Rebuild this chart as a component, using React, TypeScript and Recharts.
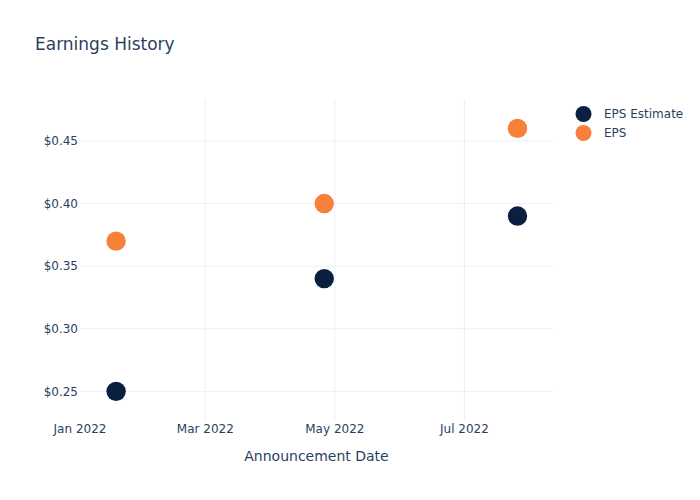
import React from 'react';
import { ScatterChart, Scatter, XAxis, YAxis, CartesianGrid } from 'recharts';

const announcementDates = ['2022-01-18', '2022-04-26', '2022-07-26'];
const epsEstimate = [0.25, 0.34, 0.39];
const epsActual = [0.37, 0.4, 0.46];
const xTickDates = ['2022-01-01', '2022-03-01', '2022-05-01', '2022-07-01'];
const yTicks = [0.25, 0.3, 0.35, 0.4, 0.45];
const seriesNames = ['EPS Estimate', 'EPS'];
const seriesColors = ['#0b1f41', '#f7813a'];

const MONTHS = ['Jan', 'Feb', 'Mar', 'Apr', 'May', 'Jun', 'Jul', 'Aug', 'Sep', 'Oct', 'Nov', 'Dec'];
const toTs = (s: string) => {
  const [y, m, d] = s.split('-').map(Number);
  return Date.UTC(y, m - 1, d);
};

const estimateData = announcementDates.map((d, i) => ({ x: toTs(d), y: epsEstimate[i] }));
const actualData = announcementDates.map((d, i) => ({ x: toTs(d), y: epsActual[i] }));
const xTicks = xTickDates.map(toTs);

const xDomain = [Date.UTC(2022, 0, 1), Date.UTC(2022, 7, 11, 17)];
const yDomain = [0.2271, 0.4827];

const FONT = '"DejaVu Sans", Verdana, sans-serif';
const TEXT = '#2a3f5f';

const dot = (color: string) => (props: any) => (
  <circle cx={props.cx} cy={props.cy} r={9.7} fill={color} />
);

export default function App() {
  return (
    <div style={{ position: 'absolute', left: 0, top: 0, width: 700, height: 500, background: '#fff', fontFamily: FONT }}>
      <div style={{ position: 'absolute', left: 35, top: 34, fontSize: 17, color: TEXT, fontFamily: FONT, lineHeight: '20px' }}>
        Earnings History
      </div>
      <ScatterChart width={700} height={500} margin={{ top: 100, right: 147, bottom: 50, left: 0 }}>
        <CartesianGrid
          stroke="#ebf0f8"
          strokeWidth={1}
          verticalCoordinatesGenerator={(args: any) => {
            const off = args.offset;
            return xTicks
              .slice(1)
              .map((t) => off.left + ((t - xDomain[0]) / (xDomain[1] - xDomain[0])) * off.width);
          }}
          horizontalCoordinatesGenerator={(args: any) => {
            const off = args.offset;
            return yTicks.map(
              (t) => off.top + off.height - ((t - yDomain[0]) / (yDomain[1] - yDomain[0])) * off.height
            );
          }}
        />
        <XAxis
          type="number"
          dataKey="x"
          domain={xDomain}
          ticks={xTicks}
          allowDataOverflow
          axisLine={false}
          tickLine={false}
          tickSize={0}
          tickMargin={4}
          height={30}
          tick={{ fill: TEXT, fontSize: 12, fontFamily: FONT }}
          tickFormatter={(v: number) => {
            const d = new Date(v);
            return `${MONTHS[d.getUTCMonth()]} ${d.getUTCFullYear()}`;
          }}
          label={{ value: 'Announcement Date', position: 'bottom', offset: 1, fill: TEXT, fontSize: 14, fontFamily: FONT }}
        />
        <YAxis
          type="number"
          dataKey="y"
          domain={yDomain}
          ticks={yTicks}
          allowDataOverflow
          axisLine={false}
          tickLine={false}
          tickSize={0}
          tickMargin={2}
          width={80}
          tick={{ fill: TEXT, fontSize: 12, fontFamily: FONT }}
          tickFormatter={(v: number) => `$${v.toFixed(2)}`}
        />
        <Scatter name={seriesNames[0]} data={estimateData} fill={seriesColors[0]} shape={dot(seriesColors[0])} isAnimationActive={false} />
        <Scatter name={seriesNames[1]} data={actualData} fill={seriesColors[1]} shape={dot(seriesColors[1])} isAnimationActive={false} />
      </ScatterChart>
      <svg style={{ position: 'absolute', left: 570, top: 100 }} width={130} height={45}>
        {seriesNames.map((n, i) => (
          <g key={n}>
            <circle cx={13.5} cy={14 + i * 19} r={8} fill={seriesColors[i]} />
            <text x={34} y={14 + i * 19} dy="0.35em" fill={TEXT} fontSize={12} fontFamily={FONT}>
              {n}
            </text>
          </g>
        ))}
      </svg>
    </div>
  );
}
